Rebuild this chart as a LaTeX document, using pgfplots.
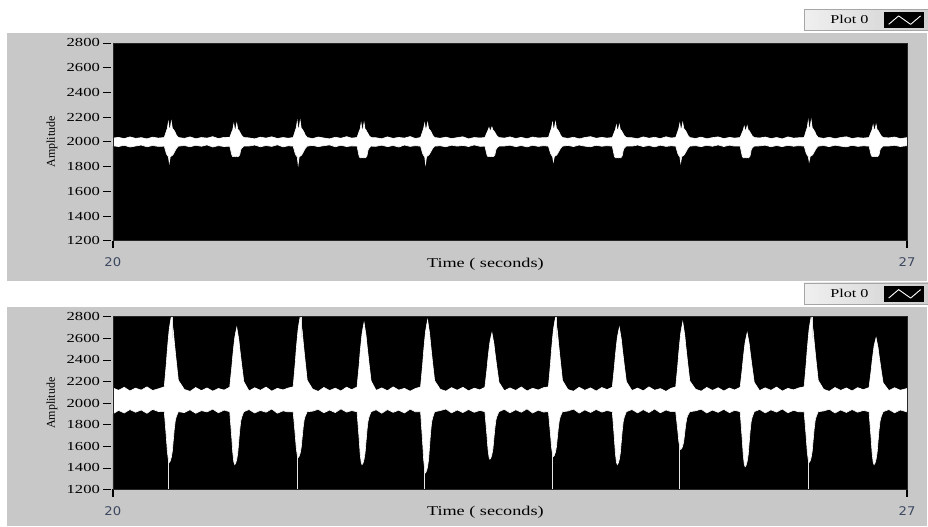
\documentclass[border=0pt]{standalone}
\usepackage{fontspec}
\setmainfont{Liberation Serif}
\newfontfamily\stretchserif[FakeStretch=1.35]{Liberation Serif}
\newfontfamily\ticksans[FakeStretch=1.1]{DejaVu Sans}
\usepackage{pgfplots}
\usepackage{pgfplotstable}
\pgfplotsset{compat=1.18}
\definecolor{panelgray}{RGB}{200,200,200}
\definecolor{xtc}{RGB}{60,72,96}

\pgfplotstableread{
t h1 l1 h2 l2
20.000 2030 1968 2140 1900
20.050 2036 1962 2118 1932
20.100 2026 1972 2146 1908
20.150 2040 1958 2112 1940
20.200 2028 1966 2138 1915
20.250 2034 1974 2120 1936
20.300 2024 1960 2150 1905
20.350 2038 1970 2116 1942
20.400 2030 1963 2132 1922
20.453 2035 1965 2150 1920
20.471 2085 1905 2365 1685
20.480 2110 1890 2492 1553
20.489 2160 1880 2599 1474
20.497 2100 1830 2686 1450
20.506 2115 1880 2746 1464
20.515 2165 1885 2800 1497
20.524 2110 1890 2733 1553
20.533 2100 1900 2666 1661
20.541 2090 1915 2572 1755
20.550 2075 1930 2478 1835
20.559 2055 1945 2385 1873
20.577 2035 1965 2210 1920
20.630 2028 1970 2126 1912
20.680 2040 1960 2108 1938
20.730 2025 1972 2144 1905
20.780 2035 1964 2115 1930
20.830 2030 1975 2140 1918
20.880 2042 1958 2110 1944
20.930 2026 1969 2135 1910
20.980 2036 1962 2120 1935
21.030 2035 1965 2147 1920
21.048 2080 1895 2330 1675
21.057 2100 1880 2438 1538
21.066 2145 1880 2529 1454
21.074 2095 1885 2603 1430
21.083 2105 1880 2654 1445
21.092 2150 1885 2700 1479
21.101 2100 1880 2643 1538
21.110 2095 1885 2586 1650
21.118 2080 1895 2506 1748
21.127 2065 1935 2426 1832
21.136 2050 1950 2347 1871
21.154 2035 1965 2198 1920
21.200 2032 1966 2112 1940
21.250 2024 1974 2142 1908
21.300 2038 1960 2118 1932
21.350 2030 1970 2148 1915
21.400 2041 1963 2110 1945
21.450 2027 1976 2136 1906
21.500 2035 1959 2122 1928
21.545 2029 1968 2139 1918
21.589 2035 1965 2150 1920
21.607 2088 1905 2365 1707
21.616 2112 1888 2492 1588
21.625 2165 1878 2599 1516
21.633 2100 1815 2686 1495
21.642 2118 1878 2746 1508
21.651 2170 1884 2800 1537
21.660 2112 1890 2733 1588
21.669 2102 1900 2666 1686
21.677 2090 1914 2572 1771
21.686 2076 1930 2478 1843
21.695 2056 1946 2385 1877
21.713 2035 1965 2210 1920
21.760 2026 1971 2130 1925
21.810 2039 1961 2108 1942
21.860 2031 1969 2145 1910
21.910 2024 1975 2116 1935
21.960 2037 1960 2138 1912
22.010 2029 1972 2112 1946
22.060 2042 1962 2147 1916
22.105 2030 1967 2124 1930
22.152 2035 1965 2148 1920
22.170 2082 1885 2345 1675
22.179 2102 1870 2462 1538
22.188 2150 1870 2560 1454
22.196 2096 1875 2640 1430
22.205 2106 1870 2696 1445
22.214 2155 1875 2745 1479
22.223 2102 1870 2683 1538
22.232 2094 1876 2622 1650
22.240 2080 1888 2536 1748
22.249 2066 1932 2450 1832
22.258 2050 1950 2364 1871
22.276 2035 1965 2204 1920
22.320 2033 1964 2118 1938
22.370 2025 1973 2140 1906
22.420 2040 1961 2114 1940
22.470 2028 1970 2150 1914
22.520 2036 1958 2120 1934
22.570 2030 1974 2136 1908
22.620 2043 1963 2110 1944
22.665 2027 1969 2134 1920
22.712 2035 1965 2149 1920
22.730 2084 1906 2354 1637
22.739 2108 1890 2476 1479
22.748 2150 1880 2578 1383
22.756 2098 1820 2661 1355
22.765 2112 1880 2719 1372
22.774 2155 1886 2770 1411
22.783 2108 1892 2706 1479
22.792 2098 1902 2642 1609
22.800 2088 1916 2552 1722
22.809 2074 1930 2463 1818
22.818 2054 1946 2373 1863
22.836 2035 1965 2207 1920
22.885 2029 1968 2128 1930
22.935 2038 1960 2110 1945
22.985 2026 1973 2143 1909
23.035 2034 1965 2119 1936
23.085 2041 1971 2146 1912
23.135 2024 1962 2113 1940
23.185 2035 1975 2138 1914
23.235 2031 1964 2122 1932
23.279 2035 1965 2146 1920
23.297 2075 1895 2312 1700
23.306 2092 1880 2411 1577
23.315 2115 1880 2494 1502
23.323 2088 1885 2562 1480
23.332 2098 1880 2608 1493
23.341 2120 1885 2650 1524
23.350 2095 1880 2598 1577
23.359 2088 1885 2546 1678
23.367 2076 1895 2473 1766
23.376 2062 1935 2400 1841
23.385 2048 1950 2328 1876
23.403 2035 1965 2192 1920
23.450 2030 1966 2114 1942
23.500 2040 1973 2140 1910
23.550 2027 1961 2117 1938
23.600 2036 1970 2149 1915
23.650 2025 1959 2112 1946
23.700 2039 1972 2137 1908
23.750 2031 1963 2121 1934
23.795 2034 1969 2142 1917
23.839 2035 1965 2150 1920
23.857 2086 1908 2361 1712
23.866 2110 1892 2486 1596
23.875 2155 1882 2592 1526
23.883 2100 1840 2678 1505
23.892 2114 1882 2737 1517
23.901 2160 1887 2790 1546
23.910 2110 1892 2724 1596
23.919 2100 1902 2658 1692
23.927 2089 1916 2566 1775
23.936 2075 1931 2473 1845
23.945 2055 1946 2381 1878
23.963 2035 1965 2209 1920
24.010 2028 1971 2126 1926
24.060 2037 1962 2109 1944
24.110 2024 1974 2146 1907
24.160 2035 1965 2118 1937
24.210 2042 1960 2141 1913
24.260 2029 1972 2111 1941
24.310 2036 1964 2144 1916
24.355 2030 1969 2125 1931
24.402 2035 1965 2147 1920
24.420 2078 1885 2330 1675
24.429 2098 1870 2438 1538
24.438 2135 1870 2529 1454
24.446 2092 1875 2603 1430
24.455 2102 1870 2654 1445
24.464 2140 1875 2700 1479
24.473 2098 1870 2643 1538
24.482 2092 1876 2586 1650
24.490 2078 1888 2506 1748
24.499 2064 1932 2426 1832
24.508 2049 1950 2347 1871
24.526 2035 1965 2198 1920
24.575 2033 1965 2116 1940
24.625 2025 1974 2139 1909
24.675 2040 1962 2113 1939
24.725 2029 1970 2150 1912
24.775 2037 1959 2119 1945
24.825 2026 1973 2134 1910
24.875 2041 1963 2108 1936
24.920 2031 1968 2137 1921
24.961 2035 1965 2149 1920
24.979 2084 1906 2347 1745
24.988 2108 1890 2465 1647
24.997 2150 1880 2564 1587
25.005 2098 1830 2645 1570
25.014 2112 1880 2700 1580
25.023 2155 1886 2750 1605
25.032 2108 1892 2688 1647
25.041 2098 1902 2626 1727
25.049 2088 1916 2539 1797
25.058 2074 1930 2452 1857
25.067 2054 1946 2366 1885
25.085 2035 1965 2204 1920
25.135 2027 1969 2129 1928
25.185 2038 1961 2110 1943
25.235 2025 1972 2145 1908
25.285 2034 1964 2117 1935
25.335 2040 1975 2142 1914
25.385 2026 1962 2112 1942
25.435 2036 1973 2139 1911
25.480 2030 1965 2121 1933
25.529 2035 1965 2146 1920
25.547 2076 1885 2312 1665
25.556 2095 1870 2411 1522
25.565 2125 1870 2494 1435
25.573 2090 1875 2562 1410
25.582 2100 1870 2608 1425
25.591 2130 1875 2650 1461
25.600 2096 1870 2598 1522
25.609 2090 1876 2546 1639
25.617 2077 1888 2473 1741
25.626 2063 1932 2400 1828
25.635 2048 1950 2328 1869
25.653 2035 1965 2192 1920
25.700 2031 1967 2115 1941
25.750 2039 1973 2141 1909
25.800 2026 1960 2118 1937
25.850 2035 1970 2148 1916
25.900 2024 1961 2111 1945
25.950 2040 1972 2136 1910
26.000 2030 1964 2122 1933
26.045 2033 1969 2140 1918
26.093 2035 1965 2150 1920
26.111 2090 1908 2365 1685
26.120 2114 1892 2492 1553
26.129 2170 1882 2599 1474
26.137 2102 1840 2686 1450
26.146 2120 1882 2746 1464
26.155 2175 1887 2800 1497
26.164 2114 1892 2733 1553
26.173 2103 1902 2666 1661
26.181 2091 1916 2572 1755
26.190 2077 1931 2478 1835
26.199 2056 1946 2385 1873
26.217 2035 1965 2210 1920
26.265 2028 1970 2127 1927
26.315 2037 1961 2109 1943
26.365 2025 1973 2144 1908
26.415 2035 1965 2117 1936
26.465 2041 1959 2140 1913
26.515 2027 1972 2112 1940
26.565 2034 1963 2143 1915
26.615 2030 1968 2124 1932
26.665 2035 1965 2144 1920
26.683 2078 1895 2296 1675
26.692 2098 1880 2386 1538
26.701 2135 1880 2462 1454
26.709 2092 1885 2524 1430
26.718 2102 1880 2567 1445
26.727 2140 1885 2605 1479
26.736 2098 1880 2557 1538
26.745 2092 1885 2510 1650
26.753 2078 1895 2443 1748
26.762 2064 1935 2377 1832
26.771 2049 1950 2310 1871
26.789 2035 1965 2187 1920
26.840 2032 1966 2116 1940
26.890 2039 1972 2142 1910
26.940 2026 1962 2119 1936
27.000 2034 1969 2135 1918
}\sig

\pgfplotstableread{
t y
20.489 1180
20.489 1500
20.489 nan
20.524 2600
20.524 2850
20.524 nan
21.625 1180
21.625 1540
21.625 nan
21.660 2600
21.660 2850
21.660 nan
22.748 1180
22.748 1410
22.748 nan
23.875 1180
23.875 1550
23.875 nan
23.910 2600
23.910 2850
23.910 nan
24.997 1180
24.997 1610
24.997 nan
26.129 1180
26.129 1500
26.129 nan
26.164 2600
26.164 2850
}\spk

\pgfplotsset{
  lv/.style={
    scale only axis, width=795pt,
    xmin=20, xmax=27, ymin=1200, ymax=2800,
    axis background/.style={fill=black},
    axis line style={draw=black!85, line width=0.6pt},
    axis on top,
    xtick={20,27}, ytick={1200,1400,...,2800},
    xtick pos=bottom, ytick pos=left,
    tick align=outside, major tick length=7.5pt,
    x tick style={black, line width=1.4pt},
    y tick style={black, line width=0.7pt, xshift=-2pt},
    xticklabel style={font=\ticksans\fontsize{12}{14}\selectfont, text=xtc, yshift=-6pt},
    yticklabel style={font=\stretchserif\fontsize{12.3}{14}\selectfont, xshift=-2pt},
    /pgf/number format/assume math mode=true,
    /pgf/number format/1000 sep={},
    xlabel={Time ( seconds)},
    xlabel style={font=\stretchserif\fontsize{13.5}{15}\selectfont, at={(axis description cs:0.469,0)}, anchor=north, yshift=-13.5pt},
    ylabel={Amplitude},
    ylabel style={font=\fontsize{12}{14}\selectfont, at={(axis description cs:-0.0767,0.5)}, anchor=center},
    legend plot pos=right,
    legend style={anchor=north east, draw=gray!70, left color=gray!12, right color=gray!38,
      inner xsep=4pt, inner ysep=3pt, font=\stretchserif\fontsize{12}{14}\selectfont},
  },
  lvlegend/.style={legend image code/.code={
      \fill[black] (0pt,-7.5pt) rectangle (39pt,7.5pt);
      \draw[white, line width=0.9pt, line join=round] (4pt,-4.5pt) -- (14pt,4pt) -- (26pt,-4.5pt) -- (36pt,4pt);}},
}

\begin{document}
\begin{tikzpicture}
\path (0pt,0pt) rectangle (928pt,527pt);
\fill[panelgray] (7pt,246pt) rectangle (928pt,494pt);
\fill[panelgray] (7pt,0pt) rectangle (928pt,220pt);

\begin{axis}[lv, at={(113pt,286pt)}, anchor=south west, height=198pt,
  legend style={at={(1.0264,1.1717)}}]
  \addplot[fill=white, draw=white, line width=0.6pt, forget plot] table[x=t, y=h1] {\sig} \closedcycle;
  \addplot[fill=black, draw=none, forget plot] table[x=t, y=l1] {\sig} \closedcycle;
  \addplot[draw=white, line width=0.6pt, forget plot] table[x=t, y=l1] {\sig};
  \addlegendimage{lvlegend}
  \addlegendentry{\hspace*{20pt}Plot 0\hspace*{14pt}}
\end{axis}

\begin{axis}[lv, at={(113pt,37pt)}, anchor=south west, height=173pt,
  legend style={at={(1.0264,1.1965)}}]
  \addplot[fill=white, draw=white, line width=0.6pt, forget plot] table[x=t, y=h2] {\sig} \closedcycle;
  \addplot[fill=black, draw=none, forget plot] table[x=t, y=l2] {\sig} \closedcycle;
  \addplot[draw=white, line width=0.6pt, forget plot] table[x=t, y=l2] {\sig};
  \addplot[white!80!gray, line width=0.9pt, unbounded coords=jump, forget plot] table[x=t, y=y] {\spk};
  \addlegendimage{lvlegend}
  \addlegendentry{\hspace*{20pt}Plot 0\hspace*{14pt}}
\end{axis}
\end{tikzpicture}
\end{document}
